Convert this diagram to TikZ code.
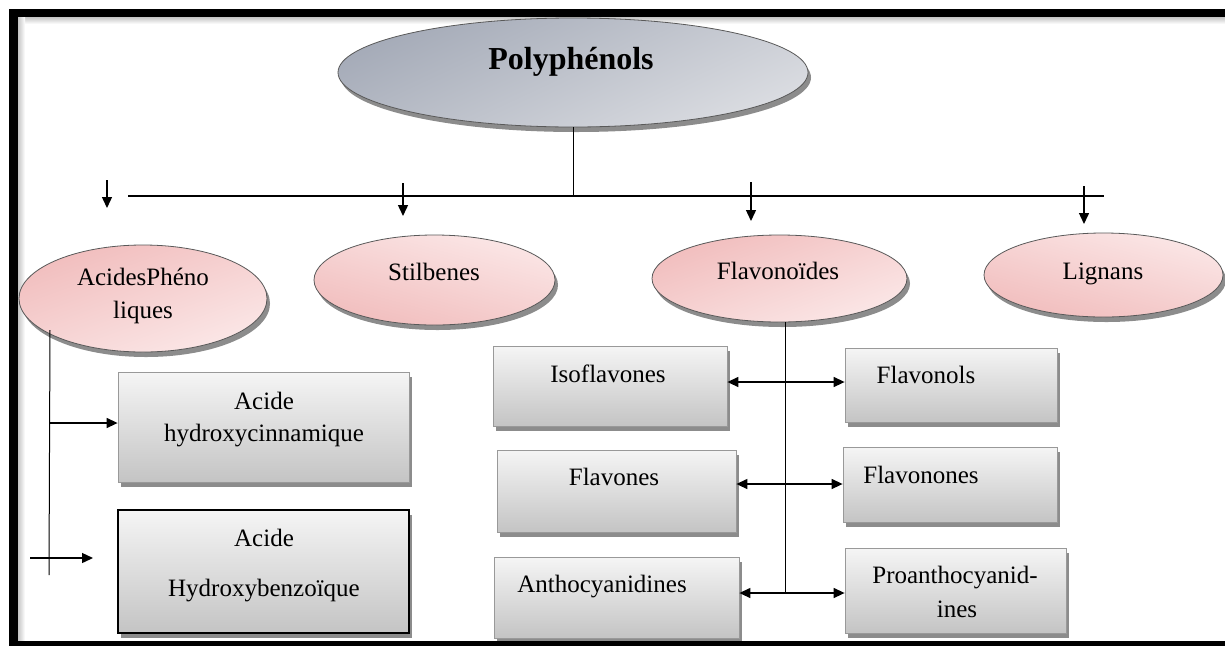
\documentclass[tikz,border=0pt]{standalone}
\usepackage{fontspec}
\setmainfont{Liberation Serif}
\usetikzlibrary{shapes.geometric,shadows,arrows.meta}
\definecolor{polyD}{HTML}{A5ABB8}
\definecolor{polyL}{HTML}{DADCE1}
\definecolor{pinkD}{HTML}{F1BDBD}
\definecolor{pinkL}{HTML}{FBE7E7}
\definecolor{boxT}{HTML}{F5F5F5}
\definecolor{boxB}{HTML}{C4C4C4}
\begin{document}
\begin{tikzpicture}[x=1pt,y=-1pt,
  shd/.style={drop shadow={shadow xshift=3pt,shadow yshift=-5pt,opacity=0.45,fill=black}},
  ell/.style={ellipse,draw=gray!70!black,line width=0.8pt,inner sep=0pt,shd},
  pinkdn/.style={ell,top color=pinkD,bottom color=pinkL,shading angle=20},
  pinkup/.style={ell,top color=pinkL,bottom color=pinkD,shading angle=-15},
  boxx/.style={rectangle,draw=gray!80,line width=0.8pt,top color=boxT,bottom color=boxB,inner sep=0pt,shd},
  lbl/.style={font=\fontsize{25}{32}\selectfont,inner sep=0pt,text height=17pt,text depth=5pt},
  tip/.style={-{Triangle[length=11pt,width=10pt]},line width=1.4pt},
  dtip/.style={{Triangle[length=11pt,width=10pt]}-{Triangle[length=11pt,width=10pt]},line width=1.4pt},
  thinln/.style={line width=1pt},
]
\useasboundingbox (0,0) rectangle (1225,646);
\fill[white] (0,0) rectangle (1225,646);
% frame
\shade[top color=gray!45,bottom color=white] (18,17) rectangle (1225,24);
\shade[left color=gray!45,right color=white] (18,17) rectangle (25,641);
\fill[black] (9,9) rectangle (1225,17);
\fill[black] (9,9) rectangle (18,646);
\fill[black] (9,641) rectangle (1225,646);

% ellipses
\node[ell,top color=polyD,bottom color=polyL,shading angle=25,minimum width=470pt,minimum height=109pt] (poly) at (573,72.5) {};
\node[pinkdn,minimum width=248pt,minimum height=107pt] (acph) at (143,298.5) {};
\node[pinkup,minimum width=241pt,minimum height=90pt] (stil) at (434.5,280) {};
\node[pinkdn,minimum width=255pt,minimum height=87pt] (flav) at (779.5,278.5) {};
\node[pinkup,minimum width=239pt,minimum height=84pt] (lign) at (1103.5,275) {};

% boxes
\node[boxx,minimum width=291pt,minimum height=110pt] (hc) at (263.5,427) {};
\node[boxx,draw=black,line width=1.2pt,minimum width=291pt,minimum height=123pt] (hb) at (263.5,571.5) {};
\node[boxx,minimum width=234pt,minimum height=80pt] (iso) at (610,386) {};
\node[boxx,minimum width=212pt,minimum height=74pt] (fnol) at (951,385) {};
\node[boxx,minimum width=239pt,minimum height=82pt] (fone) at (616.5,491) {};
\node[boxx,minimum width=214pt,minimum height=75pt] (fnone) at (950,484.5) {};
\node[boxx,minimum width=245pt,minimum height=81pt] (antho) at (616.5,597.5) {};
\node[boxx,minimum width=221pt,minimum height=85pt] (proa) at (955.5,590.5) {};

% texts
\node[lbl,font=\fontsize{32}{36}\selectfont\bfseries,text height=22pt,text depth=7pt] (polyT) at (571,62) {Polyphénols};
\node[lbl] (acphT1) at (143,279) {AcidesPhéno};
\node[lbl] (acphT2) at (143,312) {liques};
\node[lbl] (stilT) at (434,274) {Stilbenes};
\node[lbl] (flavT) at (778,273) {Flavonoïdes};
\node[lbl] (lignT) at (1103,273) {Lignans};
\node[lbl] (hcT1) at (264,403) {Acide};
\node[lbl] (hcT2) at (264,435) {hydroxycinnamique};
\node[lbl] (hbT1) at (264,540) {Acide};
\node[lbl] (hbT2) at (264,590) {Hydroxybenzoïque};
\node[lbl] (isoT) at (608,376) {Isoflavones};
\node[lbl] (fnolT) at (926,377) {Flavonols};
\node[lbl] (foneT) at (614,479) {Flavones};
\node[lbl] (fnoneT) at (921,477) {Flavonones};
\node[lbl] (anthoT) at (602,586) {Anthocyanidines};
\node[lbl] (proaT1) at (955,577) {Proanthocyanid-};
\node[lbl] (proaT2) at (957,611) {ines};

% top connectors
\coordinate (hl1) at (128,196);
\coordinate (hl2) at (1104,196);
\draw[line width=2pt] (hl1) -- (hl2);
\draw[thinln] (poly.south) -- (poly.south |- hl1);
\coordinate (a1s) at (107,180); \coordinate (a1e) at (107,208);
\coordinate (a2s) at (403,183); \coordinate (a2e) at (403,216);
\coordinate (a3s) at (751,182); \coordinate (a3e) at (751,221);
\coordinate (a4s) at (1084,186); \coordinate (a4e) at (1084,224);
\draw[tip] (a1s) -- (a1e);
\draw[tip] (a2s) -- (a2e);
\draw[tip] (a3s) -- (a3e);
\draw[tip] (a4s) -- (a4e);

% left branch
\coordinate (lvt) at (50,330);
\coordinate (lvb) at (49,575);
\draw[thinln] (lvt) -- (lvb);
\coordinate (lv1) at (50,423);
\draw[tip] (lv1) -- (lv1 -| hc.west);
\coordinate (lv2s) at (30,558); \coordinate (lv2e) at (93,558);
\draw[tip] (lv2s) -- (lv2e);

% flavonoid branch
\coordinate (fvb) at (785,593);
\draw[thinln] (flav.south -| fvb) -- (fvb);
\coordinate (j1) at (785,382);
\coordinate (j2) at (785,484);
\coordinate (j3) at (785,593);
\draw[dtip] (j1 -| iso.east) -- (j1 -| fnol.west);
\draw[dtip] (j2 -| fone.east) -- (j2 -| fnone.west);
\draw[dtip] (j3 -| antho.east) -- (j3 -| proa.west);
\end{tikzpicture}
\end{document}
